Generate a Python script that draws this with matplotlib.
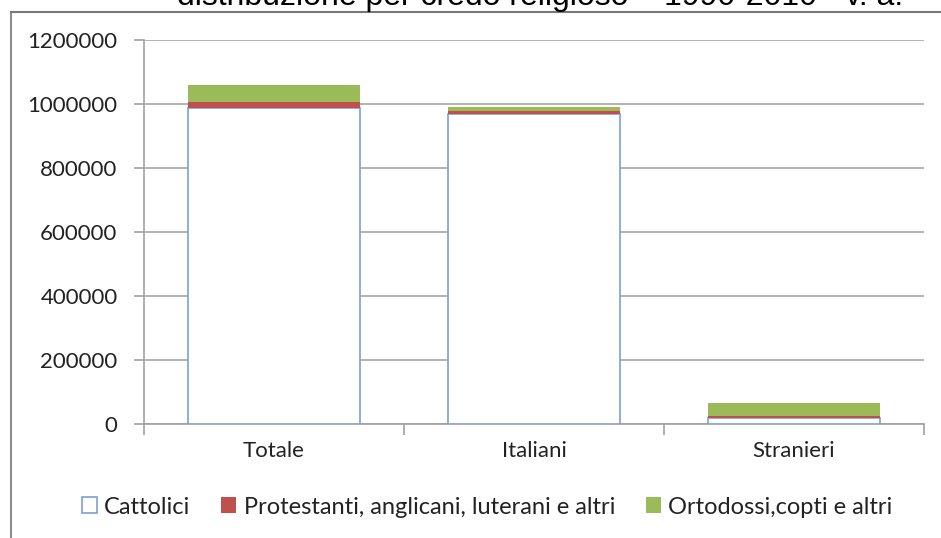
import matplotlib.pyplot as plt
from matplotlib.lines import Line2D
import numpy as np

# dati (valori assoluti)
categorie = ['Totale', 'Italiani', 'Stranieri']
cattolici = [987000, 968000, 19000]
protestanti = [18000, 11000, 7000]
ortodossi = [53000, 12000, 41000]
serie = ['Cattolici', 'Protestanti, anglicani, luterani e altri', 'Ortodossi,copti e altri']
yticks = [0, 200000, 400000, 600000, 800000, 1000000, 1200000]
titolo = 'distribuzione per credo religioso \u2013 1990-2010 - v. a.'

plt.rcParams['font.family'] = ['Lato', 'DejaVu Sans']

fig = plt.figure(figsize=(9.41, 5.38), dpi=100)
ax = fig.add_axes([144 / 941, 114 / 538, 780 / 941, 384 / 538])

x = np.arange(len(categorie))
w = 0.665
ax.bar(x, cattolici, w, color='white', edgecolor='#7BA0D4', linewidth=1.2, label=serie[0], zorder=3)
ax.bar(x, protestanti, w, bottom=cattolici, color='#C0504D', label=serie[1], zorder=3)
ax.bar(x, ortodossi, w, bottom=np.array(cattolici) + np.array(protestanti),
       color='#9BBB59', label=serie[2], zorder=3)

ax.set_xlim(-0.5, 2.5)
ax.set_ylim(0, 1200000)
ax.set_yticks(yticks)
ax.set_yticklabels([str(v) for v in yticks], fontsize=16, color='#222222')
ax.set_xticks(x)
ax.set_xticklabels(categorie, fontsize=16, color='#222222')
ax.set_xticks([-0.5, 0.5, 1.5, 2.5], minor=True)
ax.tick_params(axis='x', which='major', length=0, pad=12)
ax.tick_params(axis='x', which='minor', length=8, color='#A0A0A0', width=1.2)
ax.tick_params(axis='y', length=7, color='#A0A0A0', width=1.2, pad=12)
ax.grid(axis='y', color='#A6A6A6', linewidth=1.2, zorder=0)
for s in ['top', 'right']:
    ax.spines[s].set_visible(False)
for s in ['left', 'bottom']:
    ax.spines[s].set_color('#A0A0A0')
    ax.spines[s].set_linewidth(1.2)

leg = fig.legend(loc='center', bbox_to_anchor=(487 / 941, 1 - 507 / 538), ncol=3,
                 frameon=False, fontsize=17, handlelength=0.65, handleheight=0.65,
                 handletextpad=0.3, columnspacing=1.3)
for t in leg.get_texts():
    t.set_color('#222222')

# cornice del grafico
fig.add_artist(Line2D([11 / 941, 11 / 941], [0, 1 - 12 / 538], color='#8C8C8C', linewidth=1.5))
fig.add_artist(Line2D([11 / 941, 1], [1 - 12 / 538, 1 - 12 / 538], color='#777777', linewidth=1.5))

fig.text(540 / 941, 1 - 5 / 538, titolo, ha='center', va='baseline', fontsize=23,
         family='Liberation Sans', color='black')

fig.savefig('out.png', dpi=100)
